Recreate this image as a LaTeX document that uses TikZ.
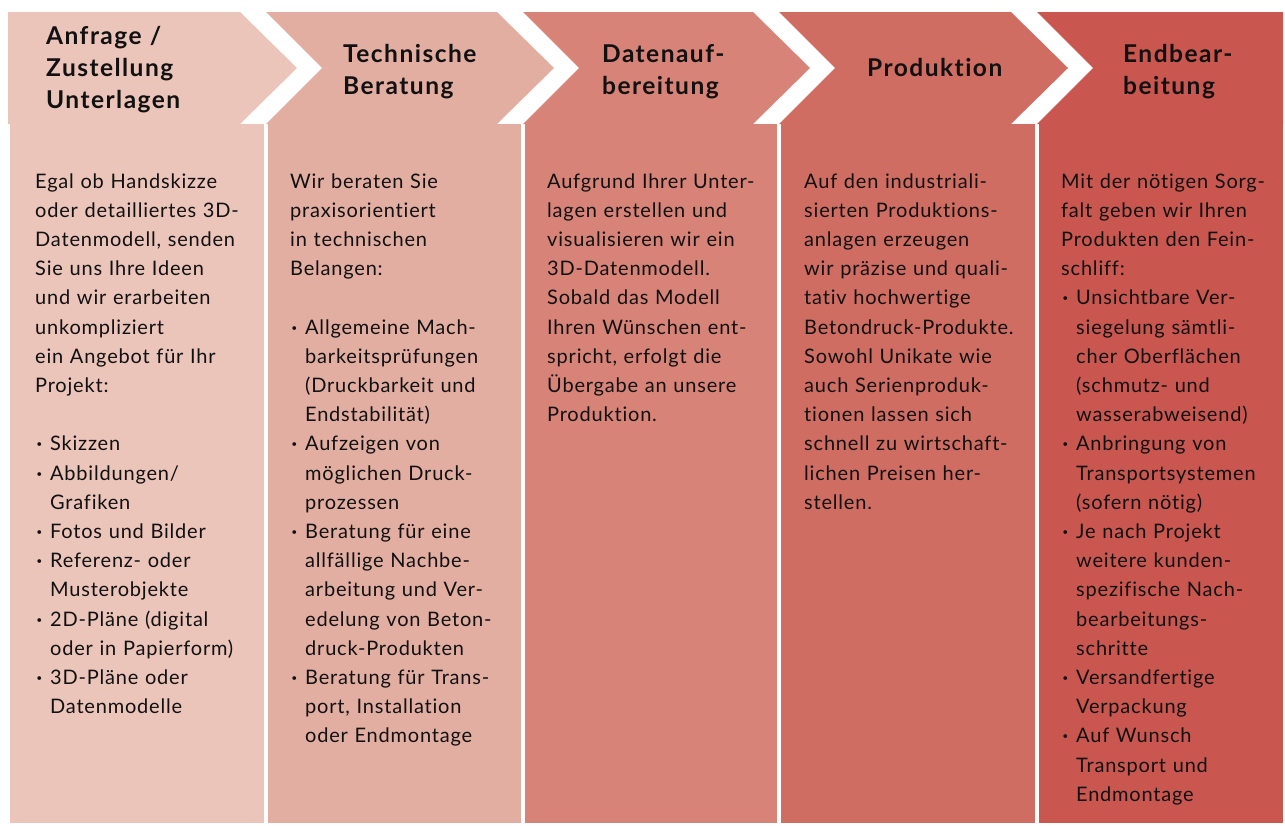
\documentclass[tikz,border=0pt]{standalone}
\usepackage{fontspec}
\setmainfont{Lato}[Ligatures=NoCommon]
\definecolor{cA}{HTML}{EBC4BA}
\definecolor{cB}{HTML}{E3AEA2}
\definecolor{cC}{HTML}{D78378}
\definecolor{cD}{HTML}{CF6D62}
\definecolor{cE}{HTML}{C95750}
\definecolor{txt}{HTML}{111111}
\newcommand\bul{\makebox[15pt][l]{\hspace{1.5pt}\textbf{\textperiodcentered}}}
\newcommand\ind{\hspace*{15pt}}
\tikzset{
  hdr/.style={font=\bfseries\fontsize{24.5}{32}\selectfont\addfontfeature{LetterSpace=6}, text width=230pt, align=left, anchor=base west, inner sep=0pt, text=txt},
  bodytext/.style={font=\fontsize{20}{29.2}\selectfont\addfontfeature{LetterSpace=4}, text width=250pt, align=left, anchor=base west, inner sep=0pt, text=txt},
}
\begin{document}
\begin{tikzpicture}[x=1pt,y=-1pt]
\useasboundingbox (0,0) rectangle (1285,825);
% body columns
\fill[cA] (10,124) rectangle (264,823);
\fill[cB] (268,124) rectangle (521,823);
\fill[cC] (525,124) rectangle (777,823);
\fill[cD] (781,124) rectangle (1035,823);
\fill[cE] (1039,124) rectangle (1283,823);
% header chevrons
\fill[cA] (8,12) -- (240,12) -- (297,68) -- (240,124) -- (8,124) -- cycle;
\fill[cB] (266,12) -- (497,12) -- (554,68) -- (497,124) -- (266,124) -- (322,68) -- cycle;
\fill[cC] (523,12) -- (753,12) -- (810,68) -- (753,124) -- (523,124) -- (579,68) -- cycle;
\fill[cD] (779,12) -- (1011,12) -- (1068,68) -- (1011,124) -- (779,124) -- (835,68) -- cycle;
\fill[cE] (1037,12) -- (1283,12) -- (1283,124) -- (1037,124) -- (1093,68) -- cycle;
% headers
\node[hdr] (h1) at (46,44) {Anfrage /\\Zustellung\\Unterlagen};
\node[hdr] (h2) at (343,62) {Technische\\Beratung};
\node[hdr] (h3) at (602,62) {Datenauf-\\bereitung};
\node[hdr] (h4) at (867,76) {Produktion};
\node[hdr] (h5) at (1123,62) {Endbear-\\beitung};
% bodies
\node[bodytext] (t1) at (35,188) {Egal ob Handskizze\\oder detailliertes 3D-\\Datenmodell, senden\\Sie uns Ihre Ideen\\und wir erarbeiten\\unkompliziert\\ein Angebot für Ihr\\Projekt:\\[29.2pt]
\bul Skizzen\\\bul Abbildungen/\\\ind Grafiken\\\bul Fotos und Bilder\\\bul Referenz- oder\\\ind Musterobjekte\\\bul 2D-Pläne (digital\\\ind oder in Papierform)\\\bul 3D-Pläne oder\\\ind Datenmodelle};
\node[bodytext] (t2) at (290,188) {Wir beraten Sie\\praxisorientiert\\in technischen\\Belangen:\\[29.2pt]
\bul Allgemeine Mach-\\\ind barkeitsprüfungen\\\ind (Druckbarkeit und\\\ind Endstabilität)\\\bul Aufzeigen von\\\ind möglichen Druck-\\\ind prozessen\\\bul Beratung für eine\\\ind allfällige Nachbe-\\\ind arbeitung und Ver-\\\ind edelung von Beton-\\\ind druck-Produkten\\\bul Beratung für Trans-\\\ind port, Installation\\\ind oder Endmontage};
\node[bodytext] (t3) at (547,188) {Aufgrund Ihrer Unter-\\lagen erstellen und\\visualisieren wir ein\\3D-Datenmodell.\\Sobald das Modell\\Ihren Wünschen ent-\\spricht, erfolgt die\\Übergabe an unsere\\Produktion.};
\node[bodytext] (t4) at (804,188) {Auf den industriali-\\sierten Produktions-\\anlagen erzeugen\\wir präzise und quali-\\tativ hochwertige\\Betondruck-Produkte.\\Sowohl Unikate wie\\auch Serienproduk-\\tionen lassen sich\\schnell zu wirtschaft-\\lichen Preisen her-\\stellen.};
\node[bodytext] (t5) at (1061,188) {Mit der nötigen Sorg-\\falt geben wir Ihren\\Produkten den Fein-\\schliff:\\
\bul Unsichtbare Ver-\\\ind siegelung sämtli-\\\ind cher Oberflächen\\\ind (schmutz- und\\\ind wasserabweisend)\\\bul Anbringung von\\\ind Transportsystemen\\\ind (sofern nötig)\\\bul Je nach Projekt\\\ind weitere kunden-\\\ind spezifische Nach-\\\ind bearbeitungs-\\\ind schritte\\\bul Versandfertige\\\ind Verpackung\\\bul Auf Wunsch\\\ind Transport und\\\ind Endmontage};
\end{tikzpicture}
\end{document}
